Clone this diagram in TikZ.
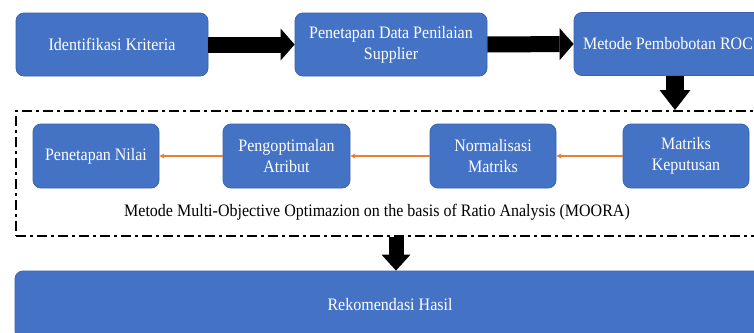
\documentclass[tikz,border=0pt]{standalone}
\usepackage{fontspec}
\setmainfont{Liberation Serif}[FakeStretch=0.915]
\usetikzlibrary{arrows.meta,calc}
\definecolor{boxblue}{HTML}{4472C4}
\definecolor{boxedge}{HTML}{3B64AD}
\definecolor{arrorange}{HTML}{ED7D31}
\tikzset{
  stepbox/.style={rectangle, rounded corners=8pt, fill=boxblue, draw=boxedge,
    line width=0.8pt, text=white, align=center, inner sep=0pt,
    font=\fontsize{17.5}{21}\selectfont},
  bigarrowh/.style={line width=16pt, -{Triangle[width=32pt,length=14pt,line width=0pt]}},
  bigarrowv/.style={line width=18pt, -{Triangle[width=31pt,length=20pt,line width=0pt]}},
  bigarrowv2/.style={line width=15pt, -{Triangle[width=29pt,length=16pt,line width=0pt]}},
  thinarrow/.style={draw=arrorange, line width=1.2pt, -{Stealth[length=5pt,width=5pt]}},
  mframe/.style={draw, line width=2pt, dash pattern=on 10pt off 4pt on 3pt off 4pt,
    rectangle, inner sep=0pt},
  plainlabel/.style={font=\fontsize{17.5}{21}\selectfont, text=black, inner sep=0pt}
}
\begin{document}
\begin{tikzpicture}[x=1pt, y=-1pt]
  \useasboundingbox (0,0) rectangle (754,332);
  \clip (0,0) rectangle (754,332);
  \fill[white] (0,0) rectangle (754,332);

  % top row
  \node[stepbox, minimum width=192pt, minimum height=63pt] (b1) at (112,44.5) {Identifikasi Kriteria};
  \node[stepbox, minimum width=192pt, minimum height=63pt] (b2) at (391,44.5) {Penetapan Data Penilaian\\Supplier};
  \node[stepbox, minimum width=188pt, minimum height=63pt] (b3) at (668,44) {Metode Pembobotan ROC};

  % frame
  \node[mframe, minimum width=754pt, minimum height=125pt] (mfr) at (393,173.5) {};

  % inner boxes
  \node[stepbox, minimum width=126pt, minimum height=64pt] (n1) at (96,156) {Penetapan Nilai};
  \node[stepbox, minimum width=127pt, minimum height=64pt] (n2) at (286.5,156) {Pengoptimalan\\Atribut};
  \node[stepbox, minimum width=126pt, minimum height=64pt] (n3) at (493,156) {Normalisasi\\Matriks};
  \node[stepbox, minimum width=126pt, minimum height=64pt] (n4) at (686,156) {Matriks\\Keputusan};

  \node[plainlabel] (lbl) at (377,212) {Metode Multi-Objective Optimazion on the basis of Ratio Analysis (MOORA)};

  % result box
  \node[stepbox, minimum width=750pt, minimum height=68pt] (res) at (390,305) {Rekomendasi Hasil};

  % connectors
  \draw[bigarrowh] (b1.east) -- (b2.west);
  \draw[bigarrowh] (b2.east) -- (b3.west);
  \draw[bigarrowv] ([xshift=7pt]b3.south) -- ([xshift=7pt]b3.south |- mfr.north);
  \draw[bigarrowv2] ([xshift=6pt]res.north |- mfr.south) -- ([xshift=6pt]res.north);

  \draw[thinarrow] (n4.west) -- (n3.east);
  \draw[thinarrow] (n3.west) -- (n2.east);
  \draw[thinarrow] (n2.west) -- (n1.east);
\end{tikzpicture}
\end{document}
